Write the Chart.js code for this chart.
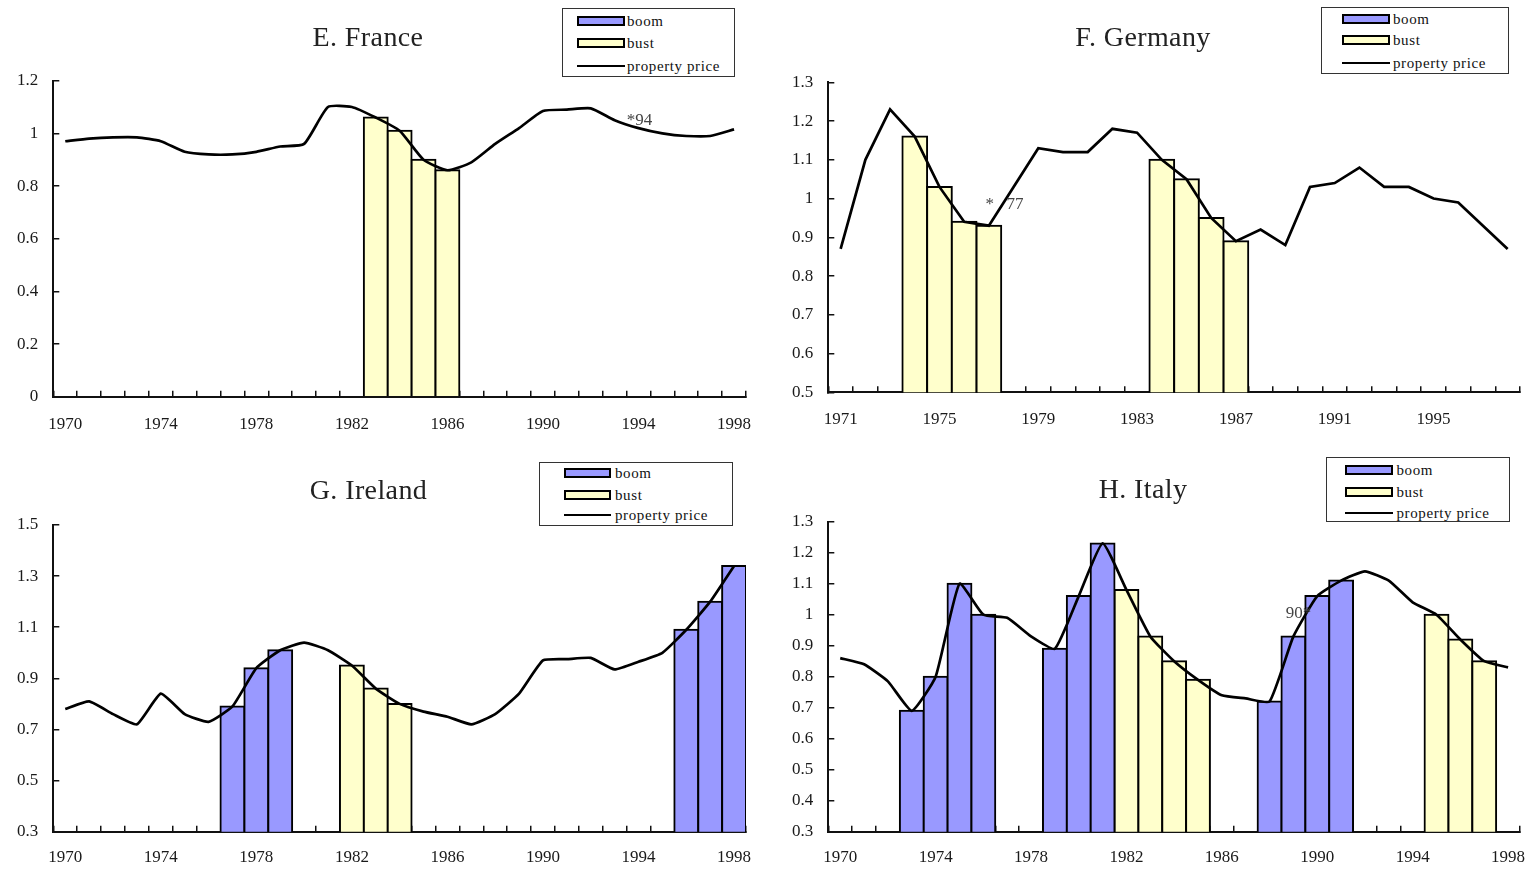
<!DOCTYPE html>
<html>
<head>
<meta charset="utf-8">
<script src="https://cdn.jsdelivr.net/npm/chart.js@4.4.0/dist/chart.umd.min.js"></script>
<style>
  html, body { margin: 0; padding: 0; background: #fff; }
  #page { position: relative; width: 1537px; height: 869px; overflow: hidden;
          font-family: "Liberation Serif", "Times New Roman", serif; }
  #page canvas { position: absolute; }
  .title { position: absolute; font-size: 28px; line-height: 28px; color: #222;
           white-space: nowrap; transform: translateX(-50%); letter-spacing: 0.4px; }
  .legend { position: absolute; border: 1px solid #333; box-sizing: border-box; background: #fff; }
  .row { position: absolute; display: flex; align-items: center; height: 16px;
         font-size: 15px; line-height: 16px; letter-spacing: 0.6px; color: #111; white-space: nowrap; }
  .sw { box-sizing: border-box; height: 10px; border: 2px solid #000; }
  .ln { height: 2px; background: #000; }
</style>
</head>
<body>
<div id="page"></div>
<script>
// ---- categories ----
const years70 = ['1970','1971','1972','1973','1974','1975','1976','1977','1978','1979',
                 '1980','1981','1982','1983','1984','1985','1986','1987','1988','1989',
                 '1990','1991','1992','1993','1994','1995','1996','1997','1998'];
const years71 = ['1971','1972','1973','1974','1975','1976','1977','1978','1979',
                 '1980','1981','1982','1983','1984','1985','1986','1987','1988','1989',
                 '1990','1991','1992','1993','1994','1995','1996','1997','1998'];

// ---- E. France ----
const francePrice = [0.97,0.98,0.985,0.985,0.97,0.93,0.92,0.92,0.93,0.95,
                     0.96,1.10,1.10,1.06,1.01,0.90,0.86,0.89,0.96,1.02,
                     1.085,1.09,1.095,1.05,1.02,1.00,0.99,0.99,1.015];
const franceBoom  = [null,null,null,null,null,null,null,null,null,null,
                     null,null,null,null,null,null,null,null,null,null,
                     null,null,null,null,null,null,null,null,null];
const franceBust  = [null,null,null,null,null,null,null,null,null,null,
                     null,null,null,1.06,1.01,0.90,0.86,null,null,null,
                     null,null,null,null,null,null,null,null,null];

// ---- F. Germany ----
const germanyPrice = [0.87,1.10,1.23,1.16,1.03,0.94,0.93,1.03,1.13,
                      1.12,1.12,1.18,1.17,1.10,1.05,0.95,0.89,0.92,0.88,
                      1.03,1.04,1.08,1.03,1.03,1.00,0.99,0.93,0.87];
const germanyBoom  = [null,null,null,null,null,null,null,null,null,
                      null,null,null,null,null,null,null,null,null,null,
                      null,null,null,null,null,null,null,null,null];
const germanyBust  = [null,null,null,1.16,1.03,0.94,0.93,null,null,
                      null,null,null,null,1.10,1.05,0.95,0.89,null,null,
                      null,null,null,null,null,null,null,null,null];

// ---- G. Ireland ----
const irelandPrice = [0.78,0.81,0.76,0.72,0.84,0.76,0.73,0.79,0.94,1.01,
                      1.04,1.01,0.95,0.86,0.80,0.77,0.75,0.72,0.76,0.84,
                      0.97,0.975,0.98,0.935,0.965,1.00,1.09,1.20,1.34];
const irelandBoom  = [null,null,null,null,null,null,null,0.79,0.94,1.01,
                      null,null,null,null,null,null,null,null,null,null,
                      null,null,null,null,null,null,1.09,1.20,1.34];
const irelandBust  = [null,null,null,null,null,null,null,null,null,null,
                      null,null,0.95,0.86,0.80,null,null,null,null,null,
                      null,null,null,null,null,null,null,null,null];

// ---- H. Italy ----
const italyPrice = [0.86,0.84,0.785,0.69,0.80,1.10,1.00,0.99,0.93,0.89,
                    1.06,1.23,1.08,0.93,0.85,0.79,0.74,0.73,0.72,0.93,
                    1.06,1.11,1.14,1.11,1.04,1.00,0.92,0.85,0.83];
const italyBoom  = [null,null,null,0.69,0.80,1.10,1.00,null,null,0.89,
                    1.06,1.23,null,null,null,null,null,null,0.72,0.93,
                    1.06,1.11,null,null,null,null,null,null,null];
const italyBust  = [null,null,null,null,null,null,null,null,null,null,
                    null,null,1.08,0.93,0.85,0.79,null,null,null,null,
                    null,null,null,null,null,1.00,0.92,0.85,null];

// ---- series styling ----
const SERIF = '"Liberation Serif", "Times New Roman", serif';
const BOOM_FILL = '#9999ff';
const BUST_FILL = '#ffffcc';
const INK = '#000';

// small text marks attached to a year/value position
const notesPlugin = {
  id: 'pointNotes',
  afterDatasetsDraw(chart, args, opts) {
    const { ctx, scales: { x, y } } = chart;
    (opts.items || []).forEach(n => {
      const px = x.getPixelForValue(chart.data.labels.indexOf(n.year)) + (n.dx || 0);
      const py = y.getPixelForValue(n.value);
      ctx.save();
      ctx.font = '17px ' + SERIF;
      ctx.fillStyle = '#444';
      ctx.textAlign = n.align || 'center';
      ctx.textBaseline = 'alphabetic';
      ctx.fillText(n.text, px, py);
      ctx.restore();
    });
  }
};

const page = document.getElementById('page');

// tick marks point inward, into the plot
function axisGrid() {
  return { display: true, drawOnChartArea: false, drawTicks: true, tickLength: -6,
           color: '#111', lineWidth: 1.5 };
}

function barSet(label, data, fill) {
  // borders centred on the bar edges so neighbouring bars share one outline
  return { label, data, backgroundColor: fill, borderColor: INK, borderWidth: 2,
           inflateAmount: 1, grouped: false, categoryPercentage: 1, barPercentage: 1, order: 1 };
}

function makePanel(p) {
  const canvas = document.createElement('canvas');
  canvas.width = p.box.w; canvas.height = p.box.h;
  canvas.style.left = p.box.left + 'px';
  canvas.style.top = p.box.top + 'px';
  canvas.style.width = p.box.w + 'px';
  canvas.style.height = p.box.h + 'px';
  page.appendChild(canvas);

  const first = parseInt(p.years[0], 10);
  new Chart(canvas, {
    type: 'bar',
    data: {
      labels: p.years,
      datasets: [
        { type: 'line', label: 'property price', data: p.price, borderColor: INK,
          borderWidth: 2.7, pointRadius: 0, tension: p.tension, fill: false, order: 0 },
        barSet('boom', p.boom, BOOM_FILL),
        barSet('bust', p.bust, BUST_FILL)
      ]
    },
    options: {
      responsive: false, animation: false, devicePixelRatio: 1,
      layout: { padding: p.pad },
      plugins: { legend: { display: false }, tooltip: { enabled: false },
                 pointNotes: { items: p.notes } },
      scales: {
        x: {
          z: 1,
          grid: axisGrid(),
          border: { display: true, color: '#111', width: 2 },
          ticks: {
            autoSkip: false, maxRotation: 0, minRotation: 0, padding: p.xPad,
            color: '#1a1a1a', font: { family: SERIF, size: 17 },
            callback(v) {
              const yr = this.getLabelForValue(v);
              return (parseInt(yr, 10) - first) % 4 === 0 ? yr : '';
            }
          },
          afterFit(s) { s.height = 37; }
        },
        y: {
          z: 1,
          min: p.yMin, max: p.yMax,
          grid: axisGrid(),
          border: { display: true, color: '#111', width: 2 },
          ticks: {
            stepSize: p.yStep, padding: 21, color: '#1a1a1a',
            font: { family: SERIF, size: 17 },
            callback(v) { return String(+v.toFixed(1)); }
          },
          afterFit(s) { s.width = 40; }
        }
      }
    },
    plugins: [notesPlugin]
  });

  // title
  const t = document.createElement('div');
  t.className = 'title';
  t.textContent = p.title;
  t.style.left = p.titleAt.x + 'px';
  t.style.top = p.titleAt.top + 'px';
  page.appendChild(t);

  // legend box
  const L = p.legend;
  const lg = document.createElement('div');
  lg.className = 'legend';
  lg.style.left = L.left + 'px'; lg.style.top = L.top + 'px';
  lg.style.width = L.w + 'px'; lg.style.height = L.h + 'px';
  const entries = [
    { kind: 'bar', fill: BOOM_FILL, text: 'boom' },
    { kind: 'bar', fill: BUST_FILL, text: 'bust' },
    { kind: 'line', text: 'property price' }
  ];
  entries.forEach((e, i) => {
    const r = document.createElement('div');
    r.className = 'row';
    r.style.left = L.swLeft + 'px';
    r.style.top = (L.rows[i] - 8) + 'px';
    const s = document.createElement('div');
    s.className = e.kind === 'bar' ? 'sw' : 'ln';
    s.style.width = L.swW + 'px';
    if (e.kind === 'bar') s.style.background = e.fill;
    const tx = document.createElement('span');
    tx.textContent = e.text;
    tx.style.marginLeft = L.gap + 'px';
    r.appendChild(s); r.appendChild(tx);
    lg.appendChild(r);
  });
  page.appendChild(lg);
}

makePanel({
  title: 'E. France', titleAt: { x: 368, top: 23.3 },
  box: { left: 0, top: 0, w: 780, h: 434 },
  pad: { left: 13.3, right: 34, top: 80.7, bottom: 0.3 },
  years: years70, price: francePrice, boom: franceBoom, bust: franceBust,
  yMin: 0, yMax: 1.2, yStep: 0.2, xPad: 24, tension: 0.18,
  notes: [{ year: '1994', value: 1.032, text: '*94', dx: 1 }],
  legend: { left: 562, top: 8, w: 173, h: 69, swLeft: 14, swW: 48, gap: 2, rows: [12, 34, 57] }
});

makePanel({
  title: 'F. Germany', titleAt: { x: 1143, top: 23.3 },
  box: { left: 768, top: 0, w: 769, h: 434 },
  pad: { left: 20.3, right: 17, top: 82.3, bottom: 4.7 },
  years: years71, price: germanyPrice, boom: germanyBoom, bust: germanyBust,
  yMin: 0.5, yMax: 1.3, yStep: 0.1, xPad: 23.5, tension: 0,
  notes: [{ year: '1977', value: 0.973, text: '*', dx: 1 },
          { year: '1978', value: 0.973, text: '77', dx: 1.5 }],
  legend: { left: 1321, top: 6.7, w: 188, h: 67, swLeft: 20, swW: 48, gap: 3, rows: [11, 32.3, 55] }
});

makePanel({
  title: 'G. Ireland', titleAt: { x: 368.5, top: 475.5 },
  box: { left: 0, top: 434, w: 780, h: 435 },
  pad: { left: 13.3, right: 34, top: 91, bottom: 0.3 },
  years: years70, price: irelandPrice, boom: irelandBoom, bust: irelandBust,
  yMin: 0.3, yMax: 1.5, yStep: 0.2, xPad: 22, tension: 0.15,
  notes: [],
  legend: { left: 539, top: 461.7, w: 194, h: 64.3, swLeft: 24, swW: 47, gap: 4, rows: [10.6, 32.5, 52.3] }
});

makePanel({
  title: 'H. Italy', titleAt: { x: 1143, top: 475 },
  box: { left: 768, top: 434, w: 790, h: 435 },
  pad: { left: 20.3, right: 38, top: 87.7, bottom: 0.3 },
  years: years70, price: italyPrice, boom: italyBoom, bust: italyBust,
  yMin: 0.3, yMax: 1.3, yStep: 0.1, xPad: 22, tension: 0.15,
  notes: [{ year: '1989', value: 0.989, text: '90*', dx: 5 }],
  legend: { left: 1325.7, top: 457.3, w: 184.3, h: 65, swLeft: 18.3, swW: 48, gap: 3.5, rows: [11.9, 33.4, 54.4] }
});
</script>
</body>
</html>
